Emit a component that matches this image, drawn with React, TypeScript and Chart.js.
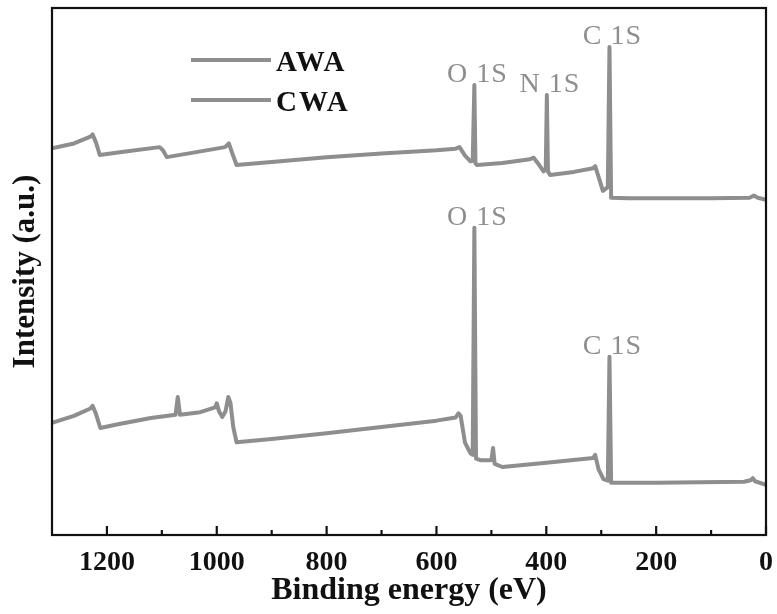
import React, { useEffect, useRef } from "react";
import { Chart, registerables } from "chart.js";

Chart.register(...registerables);

// Survey spectra: binding energy (eV) and intensity (a.u.) for each sample
const awaEnergy = [
  1300, 1260, 1230, 1226, 1220, 1213, 1180, 1104, 1098, 1091, 1040, 985, 978, 972, 964,
  900, 800, 700, 600, 565, 558, 548, 538, 534, 531, 529, 526, 480, 430, 423, 415, 405,
  401, 399, 397, 393, 350, 315, 311, 305, 297, 288, 285, 282, 250, 100, 30, 22, 15, 0,
];
const awaIntensity = [
  73.4, 74.3, 75.6, 76.0, 74.5, 72.1, 72.6, 73.6, 73.0, 71.7, 72.6, 73.6, 74.3, 72.5, 70.2,
  70.8, 71.7, 72.4, 73.0, 73.3, 73.6, 72.0, 70.9, 71.0, 85.4, 70.5, 70.2, 70.6, 71.3, 71.6, 70.5, 69.0,
  69.5, 83.5, 69.0, 68.3, 68.9, 69.6, 70.0, 68.0, 65.3, 66.0, 92.6, 64.0, 63.9, 63.9, 64.0, 64.4, 64.0, 63.6,
];

const cwaEnergy = [
  1300, 1260, 1230, 1226, 1220, 1212, 1180, 1120, 1075, 1071, 1067, 1030, 1003, 1000, 996,
  990, 984, 979, 975, 970, 964, 900, 800, 700, 600, 565, 560, 556, 548, 538, 534, 531, 528,
  520, 500, 497, 494, 480, 400, 315, 311, 305, 296, 288, 285, 282, 200, 40, 28, 24, 20, 0,
];
const cwaIntensity = [
  21.3, 22.6, 24.0, 24.5, 23.0, 20.3, 21.0, 22.2, 22.8, 26.2, 22.8, 23.3, 24.2, 25.0, 23.5,
  22.4, 23.5, 26.2, 25.0, 20.5, 17.6, 18.2, 19.3, 20.5, 21.7, 22.3, 23.1, 22.6, 17.5, 15.5, 15.2, 58.3, 14.5,
  14.2, 14.2, 16.5, 13.5, 12.9, 13.7, 14.6, 15.2, 12.5, 10.6, 10.3, 33.8, 9.9, 9.9, 10.1, 10.4, 10.8, 10.2, 9.5,
];

const seriesNames = ["AWA", "CWA"];
const xTicksMajor = [1200, 1000, 800, 600, 400, 200, 0];
const xTicksMinor = [1100, 900, 700, 500, 300, 100];

// Peak assignments: label, energy of the peak and which spectrum it belongs to
const peakNames = ["O 1S", "N 1S", "C 1S", "O 1S", "C 1S"];
const peakEnergy = [531, 399, 285, 531, 285];
const peakSeries = [0, 0, 0, 1, 1];

const LINE = "#8e8e8e";
const SERIF = "'Liberation Serif', 'Times New Roman', serif";

const toPoints = (xs: number[], ys: number[]) => xs.map((x, i) => ({ x, y: ys[i] }));

export default function App() {
  const canvasRef = useRef<HTMLCanvasElement | null>(null);

  useEffect(() => {
    const canvas = canvasRef.current;
    if (!canvas) return;

    const intensities = [awaIntensity, cwaIntensity];
    const energies = [awaEnergy, cwaEnergy];

    const framePlugin = {
      id: "frameAndTicks",
      afterDraw(chart: any) {
        const { ctx, chartArea: a, scales } = chart;
        const xs = scales.x;
        ctx.save();
        ctx.strokeStyle = "#111";
        ctx.lineWidth = 2.2;
        ctx.strokeRect(a.left, a.top, a.right - a.left, a.bottom - a.top);
        // inward tick marks on the bottom axis
        xTicksMajor.forEach((v) => {
          const px = xs.getPixelForValue(v);
          ctx.beginPath();
          ctx.moveTo(px, a.bottom);
          ctx.lineTo(px, a.bottom - 9);
          ctx.stroke();
        });
        xTicksMinor.forEach((v) => {
          const px = xs.getPixelForValue(v);
          ctx.beginPath();
          ctx.moveTo(px, a.bottom);
          ctx.lineTo(px, a.bottom - 5);
          ctx.stroke();
        });

        // peak labels above each assigned peak
        ctx.fillStyle = LINE;
        ctx.font = `28px ${SERIF}`;
        (ctx as any).letterSpacing = "1px";
        ctx.textAlign = "center";
        ctx.textBaseline = "alphabetic";
        peakNames.forEach((name, i) => {
          const s = peakSeries[i];
          const idx = energies[s].indexOf(peakEnergy[i]);
          const px = xs.getPixelForValue(peakEnergy[i]);
          const py = scales.y.getPixelForValue(intensities[s][idx]);
          ctx.fillText(name, px + 3, py - 3);
        });

        // legend
        ctx.font = `bold 29px ${SERIF}`;
        (ctx as any).letterSpacing = "2px";
        ctx.textAlign = "left";
        ctx.textBaseline = "middle";
        const rows = [60, 100];
        seriesNames.forEach((name, i) => {
          ctx.strokeStyle = LINE;
          ctx.lineWidth = 4;
          ctx.beginPath();
          ctx.moveTo(191, rows[i]);
          ctx.lineTo(271, rows[i]);
          ctx.stroke();
          ctx.fillStyle = "#111";
          ctx.fillText(name, 276, rows[i] + 4);
        });
        ctx.restore();
      },
    };

    const chart = new Chart(canvas, {
      type: "line",
      data: {
        datasets: [
          {
            label: seriesNames[0],
            data: toPoints(awaEnergy, awaIntensity),
            borderColor: LINE,
            borderWidth: 4,
            borderJoinStyle: "round",
            pointRadius: 0,
            tension: 0,
          },
          {
            label: seriesNames[1],
            data: toPoints(cwaEnergy, cwaIntensity),
            borderColor: LINE,
            borderWidth: 4,
            borderJoinStyle: "round",
            pointRadius: 0,
            tension: 0,
          },
        ],
      },
      options: {
        animation: false,
        responsive: false,
        maintainAspectRatio: false,
        layout: { padding: { top: 8, right: 11, left: 0, bottom: 0 } },
        plugins: { legend: { display: false }, tooltip: { enabled: false } },
        scales: {
          x: {
            type: "linear",
            reverse: true,
            min: 0,
            max: 1300,
            grid: { display: false, drawTicks: false },
            border: { display: false },
            afterBuildTicks: (scale: any) => {
              scale.ticks = xTicksMajor.map((v) => ({ value: v }));
            },
            afterFit: (scale: any) => {
              scale.height = 79;
              scale.paddingLeft = 0;
              scale.paddingRight = 0;
            },
            ticks: {
              padding: 11,
              color: "#111",
              font: { family: SERIF, size: 28, weight: "bold" },
              maxRotation: 0,
              callback: (v: any) => String(v),
            },
            title: {
              display: true,
              text: "Binding energy (eV)",
              color: "#111",
              padding: { top: 0, bottom: 4 },
              font: { family: SERIF, size: 32, weight: "bold" },
            },
          },
          y: {
            type: "linear",
            min: 0,
            max: 100,
            grid: { display: false, drawTicks: false },
            border: { display: false },
            ticks: { display: false },
            afterFit: (scale: any) => {
              scale.width = 52;
              scale.paddingTop = 0;
              scale.paddingBottom = 0;
            },
            title: {
              display: true,
              text: "Intensity (a.u.)",
              color: "#111",
              padding: { top: 7, bottom: 0 },
              font: { family: SERIF, size: 31, weight: "bold" },
            },
          },
        },
      },
      plugins: [framePlugin],
    } as any);

    return () => chart.destroy();
  }, []);

  return (
    <div style={{ position: "fixed", left: 0, top: 0, width: 777, height: 614, background: "#fff" }}>
      <canvas ref={canvasRef} width={777} height={614} style={{ display: "block" }} />
    </div>
  );
}
